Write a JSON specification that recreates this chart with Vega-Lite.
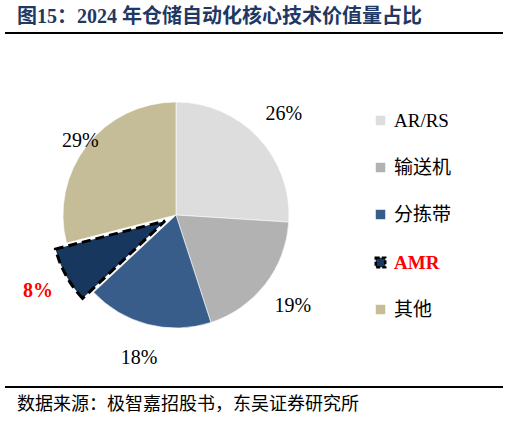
{
  "$schema": "https://vega.github.io/schema/vega-lite/v6.json",
  "width": 498,
  "height": 354,
  "autosize": {"type": "none"},
  "padding": {"left": 5, "right": 6, "top": 33, "bottom": 34},
  "background": "white",
  "config": {"view": {"stroke": null}},
  "title": {
    "text": "图15：2024 年仓储自动化核心技术价值量占比",
    "anchor": "start",
    "frame": "group",
    "dx": 12,
    "dy": 21,
    "offset": 10,
    "baseline": "alphabetic",
    "font": "Liberation Serif, Noto Sans CJK SC",
    "fontSize": 20,
    "fontWeight": "bold",
    "color": "#1F3864"
  },
  "data": {
    "values": [
      {"idx": 1, "name": "AR/RS", "share": 26, "label": "26%"},
      {"idx": 2, "name": "输送机", "share": 19, "label": "19%"},
      {"idx": 3, "name": "分拣带", "share": 18, "label": "18%"},
      {"idx": 4, "name": "AMR", "share": 8, "label": "8%"},
      {"idx": 5, "name": "其他", "share": 29, "label": "29%"}
    ]
  },
  "transform": [
    {"stack": "share", "groupby": [], "sort": [{"field": "idx", "order": "ascending"}], "as": ["s0", "s1"]}
  ],
  "layer": [
    {
      "data": {"values": [{"edge": "top"}]},
      "mark": {"type": "rule", "color": "black", "strokeWidth": 2},
      "encoding": {"y": {"value": 0}}
    },
    {
      "data": {"values": [{"edge": "bottom"}]},
      "mark": {"type": "rule", "color": "black", "strokeWidth": 2},
      "encoding": {"y": {"value": 354}}
    },
    {
      "transform": [{"filter": "datum.name !== 'AMR'"}],
      "mark": {"type": "arc", "outerRadius": 113, "x": 171, "y": 182, "stroke": "white", "strokeWidth": 0.6},
      "encoding": {
        "theta": {"field": "s0", "type": "quantitative", "scale": {"domain": [0, 100]}},
        "theta2": {"field": "s1"},
        "color": {
          "field": "name",
          "type": "nominal",
          "scale": {
            "domain": ["AR/RS", "输送机", "分拣带", "AMR", "其他"],
            "range": ["#DDDDDD", "#B2B2B2", "#385D8A", "#17375E", "#C4BD97"]
          },
          "legend": {
            "orient": "none",
            "legendX": 366,
            "legendY": 78,
            "title": null,
            "symbolType": "square",
            "symbolSize": 90,
            "symbolStrokeWidth": {"expr": "datum.value === 'AMR' ? 2.5 : 0"},
            "symbolStrokeColor": {"expr": "datum.value === 'AMR' ? '#000000' : null"},
            "symbolDash": [4, 2],
            "labelFont": "Liberation Serif, Noto Sans CJK SC",
            "labelFontSize": 19,
            "labelColor": {"expr": "datum.value === 'AMR' ? '#FF0000' : '#000000'"},
            "labelFontWeight": {"expr": "datum.value === 'AMR' ? 'bold' : 'normal'"},
            "labelOffset": 4,
            "rowPadding": 27
          }
        }
      }
    },
    {
      "transform": [{"filter": "datum.name === 'AMR'"}],
      "mark": {"type": "arc", "outerRadius": 113, "x": 160, "y": 188, "stroke": "black", "strokeWidth": 3, "strokeDash": [9, 5]},
      "encoding": {
        "theta": {"field": "s0", "type": "quantitative", "scale": {"domain": [0, 100]}},
        "theta2": {"field": "s1"},
        "color": {"field": "name", "type": "nominal", "legend": null}
      }
    },
    {
      "mark": {"type": "text", "radius": 148, "x": 171, "y": 182, "font": "Liberation Serif", "fontSize": 20, "color": "black"},
      "encoding": {
        "theta": {"field": "share", "type": "quantitative", "stack": true},
        "order": {"field": "idx"},
        "text": {"condition": {"test": "datum.name !== 'AMR' && datum.name !== '其他'", "field": "label"}, "value": ""}
      }
    },
    {
      "mark": {"type": "text", "radius": 121, "x": 171, "y": 182, "font": "Liberation Serif", "fontSize": 20, "color": "black"},
      "encoding": {
        "theta": {"field": "share", "type": "quantitative", "stack": true},
        "order": {"field": "idx"},
        "text": {"condition": {"test": "datum.name === '其他'", "field": "label"}, "value": ""}
      }
    },
    {
      "mark": {"type": "text", "radius": 145, "x": 160, "y": 188, "font": "Liberation Serif", "fontSize": 20, "fontWeight": "bold", "color": "#FF0000"},
      "encoding": {
        "theta": {"field": "share", "type": "quantitative", "stack": true},
        "order": {"field": "idx"},
        "text": {"condition": {"test": "datum.name === 'AMR'", "field": "label"}, "value": ""}
      }
    },
    {
      "data": {"values": [{"note": "数据来源：极智嘉招股书，东吴证券研究所"}]},
      "mark": {"type": "text", "align": "left", "baseline": "middle", "font": "Noto Sans CJK SC", "fontSize": 18, "color": "black"},
      "encoding": {
        "x": {"value": 12},
        "y": {"value": 372},
        "text": {"field": "note"}
      }
    }
  ]
}
